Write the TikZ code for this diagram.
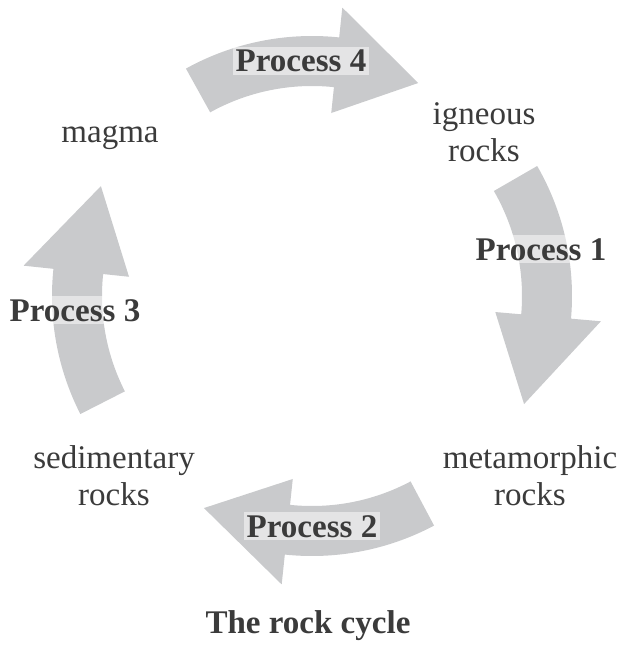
\documentclass[tikz,border=0pt]{standalone}
\usepackage{fontspec}
\setmainfont{Liberation Serif}
\usetikzlibrary{positioning}
\definecolor{ArrowGray}{HTML}{C9CACC}
\definecolor{InkGray}{HTML}{3B3B3B}
\newcommand{\rockfont}{\fontsize{23.5}{26.5}\selectfont}
% curved block arrow: tail angle, head base angle, tip angle
\newcommand{\cyclearrow}[3]{%
  \fill[ArrowGray] (#1:260) arc[start angle=#1, end angle=#2, radius=260]
    -- (#2:290) -- (#3:238) -- (#2:184) -- (#2:210)
    arc[start angle=#2, end angle=#1, radius=210] -- cycle;}
\tikzset{
  rocklabel/.style={text=InkGray, font=\rockfont, align=center, inner sep=0pt},
  processlabel/.style={text=InkGray, font=\rockfont\bfseries, fill=white,
                       fill opacity=0.5, text opacity=1, inner sep=2pt, anchor=base}
}

\begin{document}
\begin{tikzpicture}[x=0.025cm, y=-0.025cm]
\useasboundingbox (0,0) rectangle (628,657);
% the four arrows round the cycle
\begin{scope}[shift={(312,296)}, yscale=-1]
  \cyclearrow{119}{84}{63.5}
  \cyclearrow{30}{-5}{-27}
  \cyclearrow{-62}{-96}{-117}
  \cyclearrow{207}{174}{152.5}
\end{scope}

% rock stages
\node[rocklabel, anchor=base] (magma) at (110,142) {magma};
\node[rocklabel] (igneous) at (484,132) {igneous\\rocks};
\node[rocklabel] (metamorphic) at (530,476) {metamorphic\\rocks};
\node[rocklabel] (sedimentary) at (114,476) {sedimentary\\rocks};

% processes
\node[processlabel] (p4) at (301,72) {Process 4};
\node[processlabel] (p1) at (541,260) {Process 1};
\node[processlabel] (p2) at (312,537) {Process 2};
\node[processlabel] (p3) at (75,321) {Process 3};

\node[rocklabel, font=\rockfont\bfseries, anchor=base] (title) at (308,633) {The rock cycle};
\end{tikzpicture}
\end{document}
